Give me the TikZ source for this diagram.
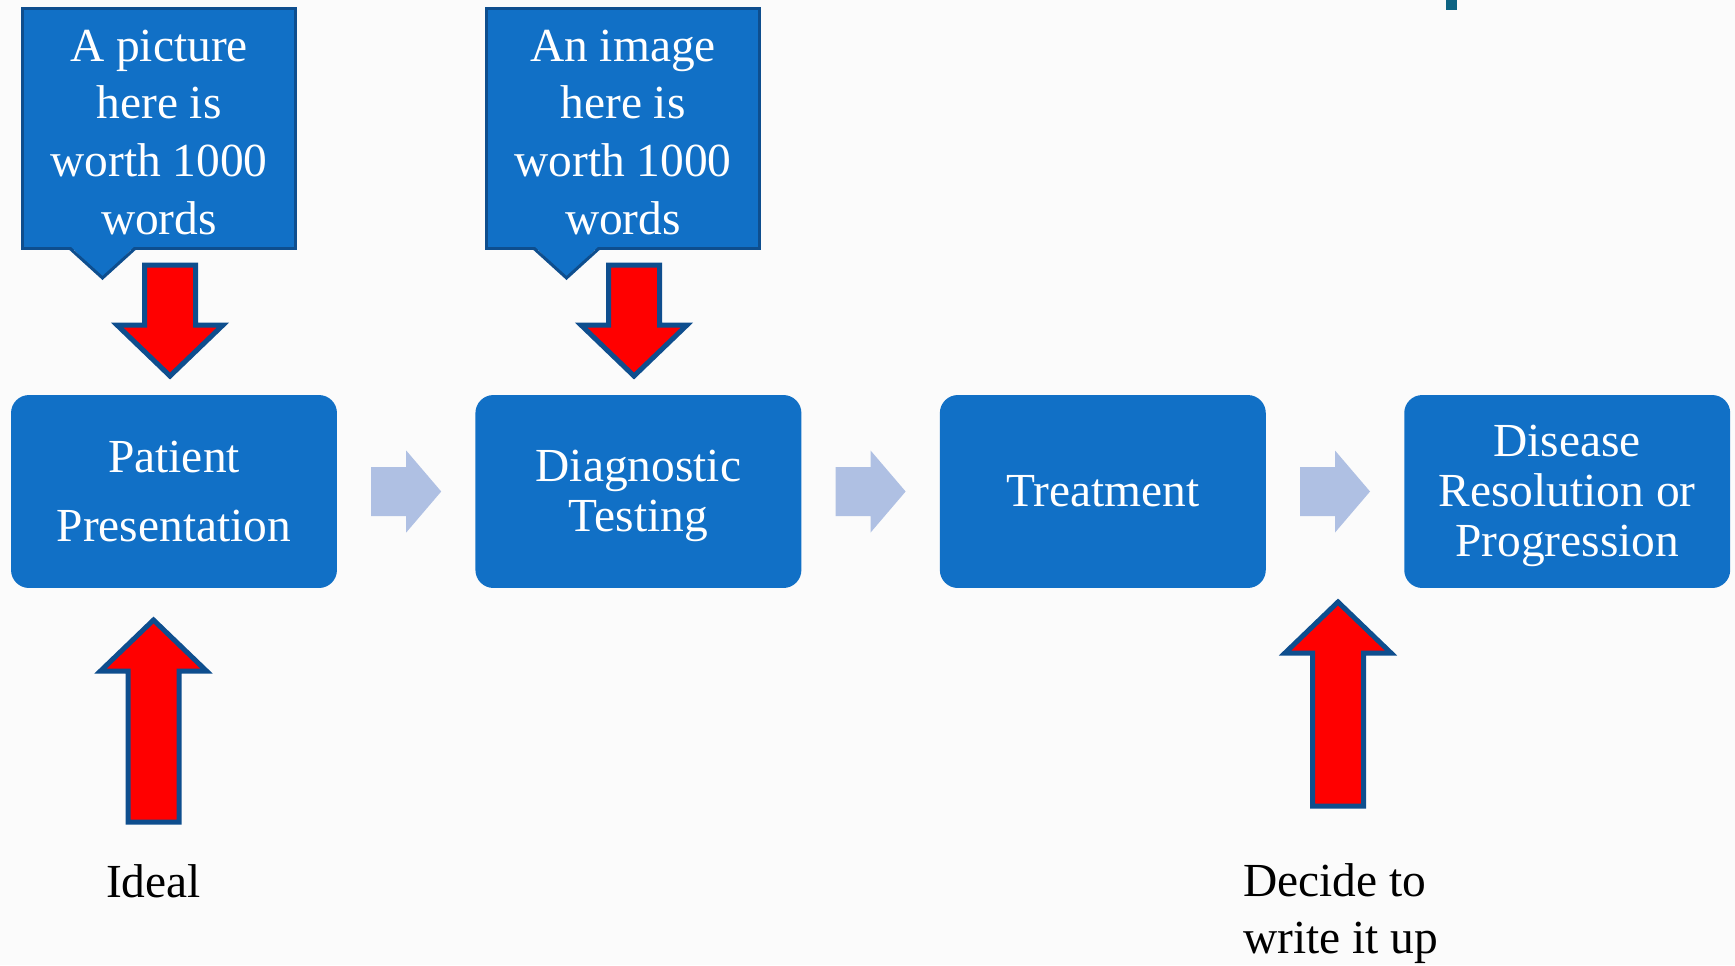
\documentclass[tikz,border=0pt]{standalone}
\usepackage{fontspec}
\setmainfont{LiberationSerif}[Extension=.ttf,UprightFont=*-Regular,BoldFont=*-Bold]
\usetikzlibrary{calc}
\definecolor{boxblue}{HTML}{1170C6}
\definecolor{rimblue}{HTML}{0E4E8E}
\definecolor{paleblue}{HTML}{AFC0E3}
\definecolor{titleteal}{HTML}{0E6483}
\definecolor{paper}{HTML}{FBFBFB}
\begin{document}
\begin{tikzpicture}[x=0.02cm,y=-0.02cm,node distance=9.29cm,
    main node/.style={rectangle,rounded corners=0.36cm,fill=boxblue,text=white,minimum width=6.52cm,minimum height=3.86cm,align=center,font=\fontsize{27}{28.5}\selectfont},
    note node/.style={rectangle,fill=boxblue,draw=rimblue,line width=0.06cm,outer sep=0pt,text=white,minimum width=5.46cm,minimum height=4.8cm,align=center,font=\fontsize{27}{32.8}\selectfont},
    label node/.style={inner sep=0pt,font=\fontsize{27}{32}\selectfont},
    pics/red arrow/.style={code={\draw[fill=red,draw=rimblue,line width=0.1cm,line join=miter]
        (0,0) -- (53,-51) -- (25.5,-51) -- (25.5,-#1) -- (-25.5,-#1) -- (-25.5,-51) -- (-53,-51) -- cycle;}},
    pics/flow arrow/.style={code={\fill[paleblue]
        (-35,-24.5) -- (0,-24.5) -- (0,-41) -- (35,0) -- (0,41) -- (0,24.5) -- (-35,24.5) -- cycle;}}]
        \useasboundingbox (0,0) rectangle (1735,965);
        \fill[paper] (0,0) rectangle (1735,965);
        \fill[titleteal] (1446,0) rectangle (1457,10);
        % process boxes
        \node[main node] (1) at (174,491.5) {Patient\\[11.3pt]Presentation};
        \node[main node] (2) [right of=1] {\rule{0pt}{23pt}Diagnostic\\Testing};
        \node[main node] (3) [right of=2] {Treatment};
        \node[main node] (4) [right of=3] {\rule{0pt}{23pt}Disease\\Resolution or\\Progression};
        \foreach \a/\b in {1/2,2/3,3/4}
          \path ($(\a.east)!0.5!(\b.west)$) pic {flow arrow};
        % callouts
        \node[note node] (5) at (159,128.5) {\rule{0pt}{22.2pt}A picture\\here is\\worth 1000\\words};
        \node[note node] (6) at (623,128.5) {\rule{0pt}{22.2pt}An image\\here is\\worth 1000\\words};
        \foreach \n in {5,6} {
          \fill[boxblue] ($(\n.south)+(-89,-2.5)$) -- ($(\n.south)+(-56.5,29.5)$) -- ($(\n.south)+(-24,-2.5)$) -- cycle;
          \draw[rimblue,line width=0.06cm] ($(\n.south)+(-89,0)$) -- ($(\n.south)+(-56.5,29.5)$) -- ($(\n.south)+(-24,0)$);
        }
        % red arrows
        \pic at (170,376) {red arrow=111};
        \pic at (634,376) {red arrow=111};
        \pic[rotate=180] at (153.5,620) {red arrow=202};
        \pic[rotate=180] at (1338,602) {red arrow=204};
        \node[label node,anchor=base] (7) at (153.5,897) {Ideal};
        \node[label node,anchor=base west,align=left] (8) at (1243,953) {Decide to\\write it up};
      \end{tikzpicture}
\end{document}
